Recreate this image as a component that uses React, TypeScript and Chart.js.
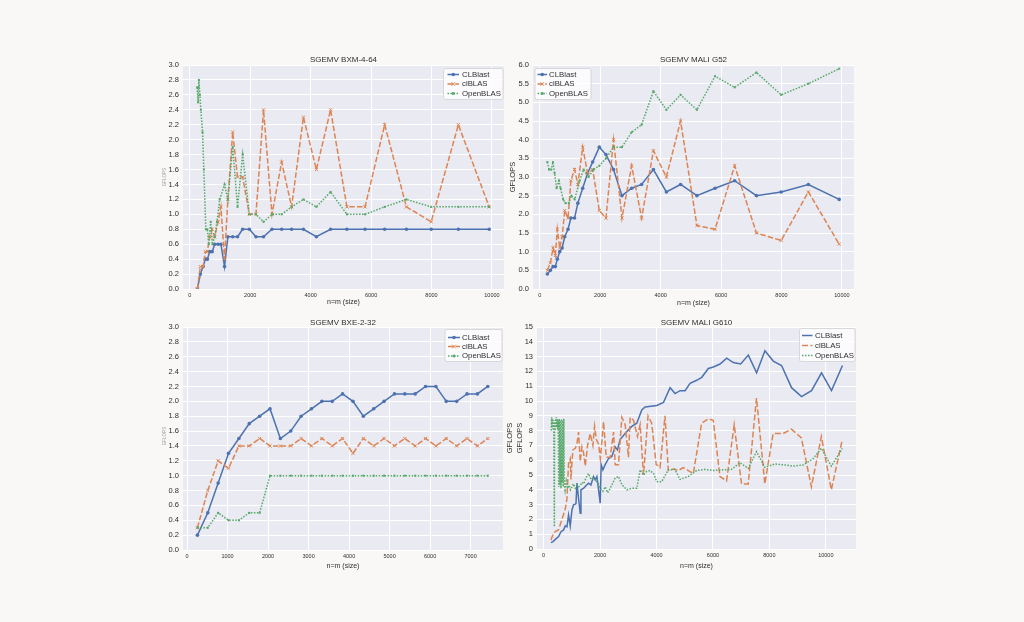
import { useEffect, useRef } from "react";
import { Chart, registerables } from "chart.js";

Chart.register(...registerables);

const FONT = "'Liberation Sans', Arial, Helvetica, sans-serif";
const TEXT = "#2e2e2e";
const SERIES_NAMES = ["CLBlast", "clBLAS", "OpenBLAS"];
const SERIES_COLORS = ["#4c72b0", "#dd8452", "#55a868"];

// ---------- SGEMV BXM-4-64 / MALI G52 (shared size grid) ----------
const sizesTop = [250, 350, 440, 515, 580, 660, 740, 825, 935, 1030, 1150, 1260, 1420, 1580, 1750, 1970, 2190, 2440, 2720, 3040, 3370, 3760, 4190, 4660, 5200, 5800, 6450, 7170, 7990, 8890, 9910];

const bxmCLBlast = [0.0, 0.2, 0.3, 0.4, 0.4, 0.5, 0.5, 0.6, 0.6, 0.6, 0.3, 0.7, 0.7, 0.7, 0.8, 0.8, 0.7, 0.7, 0.8, 0.8, 0.8, 0.8, 0.7, 0.8, 0.8, 0.8, 0.8, 0.8, 0.8, 0.8, 0.8];
const bxmClBLAS = [0.0, 0.3, 0.3, 0.5, 0.5, 0.7, 0.8, 0.7, 0.9, 1.1, 0.4, 1.2, 2.1, 1.5, 1.5, 1.0, 1.0, 2.4, 1.0, 1.7, 1.1, 2.3, 1.6, 2.4, 1.1, 1.1, 2.2, 1.1, 0.9, 2.2, 1.1];
const bxmOpenSizes = [243, 276, 290, 300, 333, 365, 422, 465, 531, 582, 626, 692, 747, 824, 900, 990, 1150, 1260, 1420, 1580, 1750, 1970, 2190, 2440, 2720, 3040, 3370, 3760, 4190, 4660, 5200, 5800, 6450, 7170, 7990, 8890, 9910];
const bxmOpenBLAS = [2.7, 2.5, 2.7, 2.8, 2.6, 2.4, 2.1, 1.6, 0.8, 0.8, 0.6, 0.9, 0.6, 0.7, 0.9, 1.2, 1.4, 1.2, 1.9, 1.1, 1.8, 1.0, 1.0, 0.9, 1.0, 1.0, 1.1, 1.2, 1.1, 1.3, 1.0, 1.0, 1.1, 1.2, 1.1, 1.1, 1.1];

const g52CLBlast = [0.4, 0.5, 0.6, 0.6, 0.8, 1.0, 1.1, 1.4, 1.6, 1.9, 1.9, 2.3, 2.7, 3.1, 3.4, 3.8, 3.6, 3.2, 2.5, 2.7, 2.8, 3.2, 2.6, 2.8, 2.5, 2.7, 2.9, 2.5, 2.6, 2.8, 2.4];
const g52ClBLAS = [0.5, 0.7, 1.1, 0.9, 1.6, 1.1, 1.4, 2.1, 1.9, 2.9, 3.2, 2.8, 3.8, 3.1, 3.2, 2.1, 1.9, 4.0, 1.9, 3.3, 1.9, 3.7, 3.0, 4.5, 1.7, 1.6, 3.3, 1.5, 1.3, 2.6, 1.2];
const g52OpenSizes = [250, 305, 380, 436, 490, 556, 632, 686, 773, 850, 959, 1046, 1155, 1318, 1449, 1612, 1776, 1970, 2190, 2440, 2720, 3040, 3370, 3760, 4190, 4660, 5200, 5800, 6450, 7170, 7990, 8890, 9910];
const g52OpenBLAS = [3.4, 3.2, 3.2, 3.4, 3.1, 2.7, 2.9, 2.7, 2.4, 2.3, 2.3, 2.5, 2.4, 2.9, 3.2, 3.0, 3.2, 3.3, 3.5, 3.8, 3.8, 4.2, 4.4, 5.3, 4.8, 5.2, 4.8, 5.7, 5.4, 5.8, 5.2, 5.5, 5.9];

// ---------- SGEMV BXE-2-32 ----------
const sizesBXE = [256, 512, 768, 1024, 1280, 1536, 1792, 2048, 2304, 2560, 2816, 3072, 3328, 3584, 3840, 4096, 4352, 4608, 4864, 5120, 5376, 5632, 5888, 6144, 6400, 6656, 6912, 7168, 7424];
const bxeCLBlast = [0.2, 0.5, 0.9, 1.3, 1.5, 1.7, 1.8, 1.9, 1.5, 1.6, 1.8, 1.9, 2.0, 2.0, 2.1, 2.0, 1.8, 1.9, 2.0, 2.1, 2.1, 2.1, 2.2, 2.2, 2.0, 2.0, 2.1, 2.1, 2.2];
const bxeClBLAS = [0.3, 0.8, 1.2, 1.1, 1.4, 1.4, 1.5, 1.4, 1.4, 1.4, 1.5, 1.4, 1.5, 1.4, 1.5, 1.3, 1.5, 1.4, 1.5, 1.4, 1.5, 1.4, 1.5, 1.4, 1.5, 1.4, 1.5, 1.4, 1.5];
const bxeOpenBLAS = [0.3, 0.3, 0.5, 0.4, 0.4, 0.5, 0.5, 1.0, 1.0, 1.0, 1.0, 1.0, 1.0, 1.0, 1.0, 1.0, 1.0, 1.0, 1.0, 1.0, 1.0, 1.0, 1.0, 1.0, 1.0, 1.0, 1.0, 1.0, 1.0];

// ---------- SGEMV MALI G610 ----------
const g610CLSizes = [261, 332, 413, 530, 615, 707, 767, 827, 883, 943, 1003, 1060, 1146, 1181, 1237, 1297, 1322, 1414, 1498, 1590, 1675, 1767, 1828, 1888, 2004, 2039, 2099, 2181, 2297, 2417, 2535, 2615, 2711, 2888, 3004, 3124, 3301, 3478, 3598, 4010, 4246, 4482, 4658, 4836, 5012, 5190, 5425, 5603, 5838, 6016, 6251, 6487, 6722, 6983, 7254, 7548, 7843, 8138, 8432, 8786, 9140, 9494, 9848, 10202, 10591];
const g610CLBlast = [0.43, 0.5, 0.65, 0.84, 1.17, 1.29, 1.56, 1.5, 2.3, 1.56, 2.64, 2.98, 3.05, 4.45, 3.43, 2.42, 4.0, 4.1, 4.27, 4.45, 4.33, 4.9, 4.67, 4.9, 3.1, 5.7, 5.35, 5.7, 6.1, 6.25, 6.9, 6.7, 7.4, 7.8, 8.05, 8.28, 8.5, 9.4, 9.6, 9.7, 9.9, 10.9, 10.5, 10.7, 10.7, 11.2, 11.4, 11.6, 12.2, 12.3, 12.5, 12.9, 12.6, 12.5, 13.1, 11.9, 13.4, 12.7, 12.4, 10.9, 10.3, 10.7, 11.9, 10.7, 12.4];
const g610ClSizes = [260, 354, 530, 650, 767, 826, 884, 943, 970, 1002, 1038, 1121, 1180, 1238, 1297, 1356, 1415, 1476, 1557, 1651, 1745, 1805, 1868, 1946, 2010, 2123, 2218, 2359, 2477, 2536, 2653, 2772, 2890, 3007, 3066, 3185, 3326, 3420, 3539, 3700, 3830, 3990, 4125, 4301, 4419, 4597, 4770, 4950, 5130, 5304, 5599, 5835, 6011, 6248, 6483, 6754, 7013, 7250, 7544, 7839, 8133, 8487, 8781, 9135, 9489, 9842, 10196, 10585];
const g610ClBLAS = [0.6, 1.1, 1.3, 2.0, 2.7, 3.4, 5.8, 6.1, 4.7, 5.8, 6.7, 6.8, 7.1, 7.9, 5.9, 6.9, 6.5, 5.6, 7.0, 7.8, 7.0, 8.3, 7.4, 7.1, 6.1, 8.6, 6.2, 6.2, 7.9, 5.7, 5.7, 8.9, 8.4, 6.2, 8.9, 8.7, 7.6, 8.4, 5.0, 9.0, 8.5, 5.7, 5.5, 9.0, 5.3, 5.4, 5.3, 5.5, 5.3, 5.1, 8.5, 8.8, 8.7, 4.9, 4.6, 8.4, 4.4, 4.4, 10.2, 4.4, 7.8, 7.8, 8.1, 7.5, 4.2, 7.6, 4.0, 7.4];
const g610OpenSizes = [270, 285, 300, 315, 330, 345, 360, 380, 390, 405, 420, 435, 450, 465, 480, 495, 515, 535, 555, 575, 595, 615, 635, 655, 675, 695, 715, 735, 760, 800, 850, 900, 950, 1000, 1060, 1120, 1180, 1240, 1300, 1360, 1420, 1500, 1590, 1680, 1760, 1840, 1920, 2005, 2100, 2182, 2270, 2359, 2450, 2536, 2654, 2772, 2949, 3126, 3303, 3421, 3539, 3656, 3771, 3900, 4006, 4183, 4419, 4654, 4832, 5126, 5421, 5716, 6011, 6306, 6660, 6955, 7250, 7544, 7839, 8193, 8547, 8842, 9194, 9548, 9842, 10196, 10585];
const g610OpenBLAS = [8.0, 8.9, 8.2, 8.8, 8.1, 8.7, 8.4, 1.5, 8.6, 8.0, 8.8, 8.2, 8.9, 8.3, 8.8, 8.1, 8.7, 4.2, 8.8, 4.3, 8.7, 4.1, 8.8, 4.5, 8.7, 4.2, 8.8, 4.4, 4.0, 4.6, 4.1, 4.3, 4.0, 4.2, 4.4, 4.1, 4.3, 4.2, 4.3, 4.5, 4.4, 4.8, 5.1, 4.7, 4.8, 4.6, 4.5, 4.1, 3.9, 4.2, 3.8, 4.1, 4.45, 4.8, 4.9, 4.35, 4.0, 4.1, 4.1, 5.35, 5.0, 5.25, 5.3, 5.1, 4.55, 4.55, 5.35, 5.38, 4.7, 4.9, 5.3, 5.38, 5.3, 5.34, 5.38, 5.83, 5.45, 6.58, 5.52, 5.74, 5.68, 5.6, 5.68, 6.1, 6.8, 5.6, 6.8];

// ---------- ticks ----------
const xTicks10k = [0, 2000, 4000, 6000, 8000, 10000];
const xTicks7k = [0, 1000, 2000, 3000, 4000, 5000, 6000, 7000];
const yTicks3 = [0, 0.2, 0.4, 0.6, 0.8, 1.0, 1.2, 1.4, 1.6, 1.8, 2.0, 2.2, 2.4, 2.6, 2.8, 3.0];
const yTicks6 = [0, 0.5, 1.0, 1.5, 2.0, 2.5, 3.0, 3.5, 4.0, 4.5, 5.0, 5.5, 6.0];
const yTicks15 = [0, 1, 2, 3, 4, 5, 6, 7, 8, 9, 10, 11, 12, 13, 14, 15];

type Series = { x: number[]; y: number[] };
type Cfg = {
  area: { l: number; r: number; t: number; b: number };
  xMin: number; xMax: number; xTicks: number[];
  yMin: number; yMax: number; yTicks: number[]; yDec: number;
  series: Series[];
  markers: boolean;
  dashes: number[][];
  title: string; titleY: number;
  xlabelY: number;
  ylabels: { text: string; x: number; y: number; size: number; color: string }[];
  legend: { x: number; y: number; w: number; h: number; rows: number[]; s0: number; s1: number; tx: number };
};

function drawMarker(ctx: CanvasRenderingContext2D, i: number, x: number, y: number) {
  const c = SERIES_COLORS[i];
  ctx.save();
  ctx.setLineDash([]);
  if (i === 0) {
    ctx.fillStyle = c;
    ctx.beginPath();
    ctx.arc(x, y, 1.8, 0, Math.PI * 2);
    ctx.fill();
  } else if (i === 1) {
    ctx.strokeStyle = c;
    ctx.lineWidth = 1;
    ctx.beginPath();
    ctx.moveTo(x - 1.8, y - 1.8); ctx.lineTo(x + 1.8, y + 1.8);
    ctx.moveTo(x + 1.8, y - 1.8); ctx.lineTo(x - 1.8, y + 1.8);
    ctx.stroke();
  } else {
    ctx.fillStyle = c;
    ctx.fillRect(x - 1.3, y - 1.3, 2.6, 2.6);
  }
  ctx.restore();
}

function makeDecor(cfg: Cfg) {
  return {
    id: "decor",
    beforeDraw(chart: any) {
      const { ctx, chartArea: a } = chart;
      ctx.save();
      ctx.fillStyle = "#eaeaf2";
      ctx.fillRect(a.left, a.top, a.right - a.left, a.bottom - a.top);
      ctx.restore();
    },
    afterDraw(chart: any) {
      const { ctx, chartArea: a } = chart;
      const cx = (a.left + a.right) / 2;
      ctx.save();
      ctx.fillStyle = TEXT;
      ctx.textAlign = "center";
      ctx.textBaseline = "middle";
      ctx.font = `8px ${FONT}`;
      ctx.fillText(cfg.title, cx, cfg.titleY);
      ctx.font = `7px ${FONT}`;
      ctx.fillText("n=m (size)", cx, cfg.xlabelY);
      for (const yl of cfg.ylabels) {
        ctx.save();
        ctx.translate(yl.x, yl.y);
        ctx.rotate(-Math.PI / 2);
        ctx.fillStyle = yl.color;
        ctx.font = `${yl.size}px ${FONT}`;
        ctx.fillText(yl.text, 0, 0);
        ctx.restore();
      }
      // legend
      const L = cfg.legend;
      ctx.save();
      ctx.fillStyle = "rgba(255,255,255,0.82)";
      ctx.strokeStyle = "#d0d0d0";
      ctx.lineWidth = 0.8;
      ctx.beginPath();
      (ctx as any).roundRect(L.x, L.y, L.w, L.h, 2);
      ctx.fill();
      ctx.stroke();
      ctx.restore();
      for (let i = 0; i < 3; i++) {
        const ry = L.rows[i];
        ctx.save();
        ctx.strokeStyle = SERIES_COLORS[i];
        ctx.lineWidth = 1.5;
        ctx.setLineDash(cfg.dashes[i]);
        ctx.beginPath();
        ctx.moveTo(L.s0, ry);
        ctx.lineTo(L.s1, ry);
        ctx.stroke();
        ctx.restore();
        if (cfg.markers) drawMarker(ctx, i, (L.s0 + L.s1) / 2, ry);
        ctx.fillStyle = TEXT;
        ctx.textAlign = "left";
        ctx.font = `7.8px ${FONT}`;
        ctx.fillText(SERIES_NAMES[i], L.tx, ry + 0.3);
      }
      ctx.restore();
    },
  };
}

const YW = 30;
const XH = 16;

function buildChart(canvas: HTMLCanvasElement, cfg: Cfg) {
  const styles = ["circle", "crossRot", "rect"];
  const radii = [1.8, 2.2, 1.4];
  const datasets = cfg.series.map((s, i) => ({
    label: SERIES_NAMES[i],
    data: s.x.map((xv, k) => ({ x: xv, y: s.y[k] })),
    borderColor: SERIES_COLORS[i],
    backgroundColor: SERIES_COLORS[i],
    borderWidth: 1.5,
    borderDash: cfg.dashes[i],
    pointStyle: styles[i] as any,
    pointRadius: cfg.markers ? radii[i] : 0,
    pointBorderWidth: i === 1 ? 1 : 0,
    pointBorderColor: SERIES_COLORS[i],
    pointBackgroundColor: SERIES_COLORS[i],
    tension: 0,
    fill: false,
    order: 2 - i,
  }));
  const grid = { color: "#ffffff", lineWidth: 1, drawTicks: false };
  return new Chart(canvas, {
    type: "line",
    data: { datasets },
    plugins: [makeDecor(cfg)],
    options: {
      responsive: false,
      maintainAspectRatio: false,
      animation: false,
      events: [],
      layout: {
        padding: {
          left: cfg.area.l - YW,
          top: cfg.area.t,
          right: 1024 - cfg.area.r,
          bottom: 622 - cfg.area.b - XH,
        },
      },
      plugins: {
        legend: { display: false },
        title: { display: false },
        tooltip: { enabled: false },
      },
      scales: {
        x: {
          type: "linear",
          min: cfg.xMin,
          max: cfg.xMax,
          afterBuildTicks: (s: any) => {
            s.ticks = cfg.xTicks.map((v) => ({ value: v }));
          },
          afterFit: (s: any) => {
            s.height = XH;
          },
          grid,
          border: { display: false },
          ticks: {
            font: { size: 5.5, family: FONT },
            color: TEXT,
            padding: 3,
            maxRotation: 0,
            minRotation: 0,
            autoSkip: false,
            callback: (v: any) => String(v),
          },
        },
        y: {
          type: "linear",
          min: cfg.yMin,
          max: cfg.yMax,
          afterBuildTicks: (s: any) => {
            s.ticks = cfg.yTicks.map((v) => ({ value: v }));
          },
          afterFit: (s: any) => {
            s.width = YW;
          },
          grid,
          border: { display: false },
          ticks: {
            font: { size: 7.5, family: FONT },
            color: TEXT,
            padding: 4,
            autoSkip: false,
            callback: (v: any) => Number(v).toFixed(cfg.yDec),
          },
        },
      },
    } as any,
  });
}

const dashesMarked = [[], [5.5, 2.2], [1.5, 1.5]];
const dashesPlain = [[], [6, 2.5], [1.5, 1.5]];

const tinyLabel = "rgba(90,90,90,0.55)";

const configs: Cfg[] = [
  {
    area: { l: 183, r: 504, t: 65, b: 289 },
    xMin: -225, xMax: 10400, xTicks: xTicks10k,
    yMin: 0, yMax: 3, yTicks: yTicks3, yDec: 1,
    series: [
      { x: sizesTop, y: bxmCLBlast },
      { x: sizesTop, y: bxmClBLAS },
      { x: bxmOpenSizes, y: bxmOpenBLAS },
    ],
    markers: true,
    dashes: dashesMarked,
    title: "SGEMV BXM-4-64", titleY: 60, xlabelY: 302,
    ylabels: [{ text: "GFLOPS", x: 165, y: 177, size: 4.5, color: tinyLabel }],
    legend: { x: 443.5, y: 68.5, w: 59.5, h: 31, rows: [74.5, 84, 93.5], s0: 447.5, s1: 459, tx: 462 },
  },
  {
    area: { l: 533, r: 854, t: 65, b: 289 },
    xMin: -225, xMax: 10400, xTicks: xTicks10k,
    yMin: 0, yMax: 6, yTicks: yTicks6, yDec: 1,
    series: [
      { x: sizesTop, y: g52CLBlast },
      { x: sizesTop, y: g52ClBLAS },
      { x: g52OpenSizes, y: g52OpenBLAS },
    ],
    markers: true,
    dashes: dashesMarked,
    title: "SGEMV MALI G52", titleY: 60, xlabelY: 303,
    ylabels: [{ text: "GFLOPS", x: 513, y: 177, size: 7.5, color: TEXT }],
    legend: { x: 535, y: 68.5, w: 56, h: 31, rows: [74.5, 84, 93.5], s0: 537.5, s1: 547, tx: 549 },
  },
  {
    area: { l: 183, r: 503, t: 327, b: 550 },
    xMin: -100, xMax: 7800, xTicks: xTicks7k,
    yMin: 0, yMax: 3, yTicks: yTicks3, yDec: 1,
    series: [
      { x: sizesBXE, y: bxeCLBlast },
      { x: sizesBXE, y: bxeClBLAS },
      { x: sizesBXE, y: bxeOpenBLAS },
    ],
    markers: true,
    dashes: dashesMarked,
    title: "SGEMV BXE-2-32", titleY: 323, xlabelY: 566,
    ylabels: [{ text: "GFLOPS", x: 165, y: 436, size: 4.5, color: tinyLabel }],
    legend: { x: 445, y: 329.5, w: 57, h: 32, rows: [337.5, 346.5, 356], s0: 448, s1: 460, tx: 462 },
  },
  {
    area: { l: 537, r: 856, t: 327, b: 549 },
    xMin: -235, xMax: 11070, xTicks: xTicks10k,
    yMin: 0, yMax: 15, yTicks: yTicks15, yDec: 0,
    series: [
      { x: g610CLSizes, y: g610CLBlast },
      { x: g610ClSizes, y: g610ClBLAS },
      { x: g610OpenSizes, y: g610OpenBLAS },
    ],
    markers: false,
    dashes: dashesPlain,
    title: "SGEMV MALI G610", titleY: 323, xlabelY: 566,
    ylabels: [
      { text: "GFLOPS", x: 510, y: 438, size: 7.5, color: TEXT },
      { text: "GFLOPS", x: 519.5, y: 438, size: 7.5, color: TEXT },
    ],
    legend: { x: 799.5, y: 328.5, w: 55.5, h: 33, rows: [335.5, 345.5, 355.5], s0: 802, s1: 812.5, tx: 815 },
  },
];

export default function App() {
  const r0 = useRef<HTMLCanvasElement>(null);
  const r1 = useRef<HTMLCanvasElement>(null);
  const r2 = useRef<HTMLCanvasElement>(null);
  const r3 = useRef<HTMLCanvasElement>(null);

  useEffect(() => {
    const refs = [r0, r1, r2, r3];
    const charts = refs.map((r, i) => buildChart(r.current as HTMLCanvasElement, configs[i]));
    return () => charts.forEach((c) => c.destroy());
  }, []);

  const cs: any = { position: "absolute", left: 0, top: 0, width: 1024, height: 622 };
  return (
    <div style={{ position: "absolute", left: 0, top: 0, width: 1024, height: 622, background: "#f9f8f6", overflow: "hidden" }}>
      <canvas ref={r0} width={1024} height={622} style={cs} />
      <canvas ref={r1} width={1024} height={622} style={cs} />
      <canvas ref={r2} width={1024} height={622} style={cs} />
      <canvas ref={r3} width={1024} height={622} style={cs} />
    </div>
  );
}
